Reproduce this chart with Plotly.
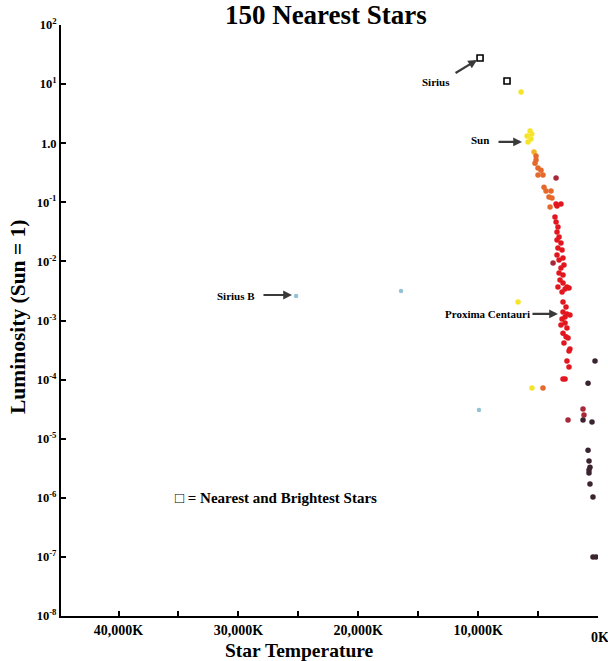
import plotly.graph_objects as go
import math

# ---------------- data (temperature in K, luminosity in Sun = 1) ----------------
bright_T = [9840, 7590]
bright_L = [27.7, 11.3]

yellow_T = [6420, 5670, 5530, 5920, 5590, 5840, 6670, 5510]
yellow_L = [7.35, 1.61, 1.43, 1.32, 1.18, 1.05, 0.00206, 7.2e-5]

yorange_T = [5340]
yorange_L = [0.71]

orange_T = [5170, 5170, 5255, 5005, 4755, 5005, 4590, 4505, 4340, 3920, 4090, 3840, 4000, 4590]
orange_L = [0.607, 0.52, 0.46, 0.38, 0.35, 0.29, 0.29, 0.18, 0.155, 0.155, 0.123, 0.118, 0.083, 7.2e-5]

red_T = [3500, 3420, 3090, 3590, 3500, 3340, 3420, 3250, 3420, 3090, 3340, 3000,
         3420, 2920, 3250, 2840, 3090, 3250, 2920, 3170, 2920, 3340, 2590, 3000,
         2750, 2420, 2920, 2670, 2920, 2590, 2750, 3000, 2340, 3090, 2750, 2590,
         2920, 2670, 2500, 2840, 2340, 2420, 2590, 2420, 2920, 2750]
red_L = [0.094, 0.0865, 0.094, 0.0564, 0.0464, 0.0382, 0.0314, 0.0259, 0.0230, 0.0205, 0.0169, 0.0156,
         0.0128, 0.0114, 0.0106, 0.0087, 0.0077, 0.00637, 0.00589, 0.00484, 0.00431, 0.00369, 0.00369, 0.00303,
         0.00341, 0.00355, 0.00206, 0.00169, 0.00139, 0.00129, 0.00115, 0.00106, 0.00124, 0.00084, 0.00091, 0.00075,
         0.00061, 0.00053, 0.000506, 0.000416, 0.00033, 0.000305, 0.000206, 0.000163, 0.000102, 0.000102]

darkred_T = [3500, 3750, 2500, 1250, 1170]
darkred_L = [0.258, 0.0094, 2.07e-5, 3.18e-5, 2.52e-5]

brown_T = [250, 830, 1250, 500, 830, 750, 670, 750, 750, 670, 420, 420, 170]
brown_L = [2.06e-4, 8.7e-5, 2.07e-5, 1.92e-5, 6.4e-6, 4.2e-6, 3.3e-6, 2.95e-6, 2.63e-6, 1.71e-6, 1.03e-6, 9.95e-8, 1.0e-7]

blue_T = [25190, 16430, 9930]
blue_L = [0.0026, 0.00315, 3.06e-5]

circle_T = [8425, 7675]
circle_L = [5.3e-4, 6.15e-4]

y_tick_vals = [1e-8, 1e-7, 1e-6, 1e-5, 1e-4, 1e-3, 1e-2, 1e-1, 1, 10, 100]
y_tick_text = ["10<sup>-8</sup>", "10<sup>-7</sup>", "10<sup>-6</sup>", "10<sup>-5</sup>", "10<sup>-4</sup>",
               "10<sup>-3</sup>", "10<sup>-2</sup>", "10<sup>-1</sup>", "1.0", "10<sup>1</sup>", "10<sup>2</sup>"]
x_tick_vals = [0, 5000, 10000, 15000, 20000, 25000, 30000, 35000, 40000]
x_tick_text = ["", "", "10,000K", "", "20,000K", "", "30,000K", "", "40,000K"]

# labels: (text, T, L)
label_items = [("Sirius", 13500, 10.9), ("Sun", 9840, 1.13),
               ("Sirius B", 30200, 0.0026), ("Proxima Centauri", 9180, 0.00129)]
# arrows: (tip T, tip L, ax px, ay px)
arrow_items = [(10090, 25.6, -23, 14), (6340, 1.05, -25, 0),
               (25530, 0.0027, -30, 0), (3340, 0.00129, -27, 0)]

FONT = "Liberation Serif, Times New Roman, serif"

fig = go.Figure()

def add(T, L, color, size=5.5, symbol="circle", line=None):
    fig.add_trace(go.Scatter(
        x=T, y=L, mode="markers",
        marker=dict(color=color, size=size, symbol=symbol,
                    line=line if line else dict(width=0)),
        showlegend=False, hoverinfo="x+y"))

add(yellow_T, yellow_L, "#f5e52a")
add(yorange_T, yorange_L, "#f2b422")
add(orange_T, orange_L, "#e6692c")
add(red_T, red_L, "#e2161f")
add(darkred_T, darkred_L, "#a8283a")
add(brown_T, brown_L, "#3b2330")
add(blue_T, blue_L, "#93c3d3", size=4.5)
add(circle_T, circle_L, "white", size=5, symbol="circle-open", line=dict(color="black", width=1.6))
add(bright_T, bright_L, "black", size=6, symbol="square-open", line=dict(color="black", width=1.6))

annotations = []
for txt, T, L in label_items:
    annotations.append(dict(x=T, y=math.log10(L), xref="x", yref="y", text=txt, showarrow=False,
                            xanchor="center", yanchor="middle",
                            font=dict(family=FONT, size=11, color="black", weight="bold")))
for T, L, ax, ay in arrow_items:
    annotations.append(dict(x=T, y=math.log10(L), xref="x", yref="y", text="", showarrow=True,
                            ax=ax, ay=ay, arrowhead=2, arrowsize=0.8, arrowwidth=2.2,
                            arrowcolor="#3a3a3a"))

annotations += [
    dict(x=0, y=-0.037, xref="x", yref="paper", text="0K", showarrow=False, xshift=2,
         xanchor="center", yanchor="middle",
         font=dict(family=FONT, size=14, color="black", weight="bold")),
    dict(x=0.445, y=-0.058, xref="paper", yref="paper", text="Star Temperature", showarrow=False,
         xanchor="center", yanchor="middle",
         font=dict(family=FONT, size=19.5, color="black", weight="bold")),
    dict(x=-0.08, y=0.506, xref="paper", yref="paper", text="Luminosity (Sun = 1)", showarrow=False,
         xanchor="center", yanchor="middle",
         textangle=-90, font=dict(family=FONT, size=21.5, color="black", weight="bold")),
    dict(x=0.40, y=0.200, xref="paper", yref="paper", text="□ = Nearest and Brightest Stars",
         xanchor="center", yanchor="middle",
         showarrow=False, font=dict(family=FONT, size=15, color="black", weight="bold")),
]

fig.update_layout(
    width=608, height=661,
    margin=dict(l=61, r=10, t=25, b=45),
    paper_bgcolor="white", plot_bgcolor="white",
    title=dict(text="150 Nearest Stars", x=0.536, xanchor="center", y=0.978, yanchor="middle",
               font=dict(family=FONT, size=27, color="black", weight="bold")),
    xaxis=dict(range=[44800, 0], tickvals=x_tick_vals, ticktext=x_tick_text,
               showgrid=False, zeroline=False, showline=True, linecolor="black", linewidth=2,
               ticks="inside", ticklen=5, tickwidth=1.5, tickcolor="black",
               tickfont=dict(family=FONT, size=14, color="black", weight="bold")),
    yaxis=dict(type="log", range=[-8, 2], tickvals=y_tick_vals, ticktext=y_tick_text,
               showgrid=False, zeroline=False, showline=True, linecolor="black", linewidth=2,
               ticks="inside", ticklen=5, tickwidth=1.5, tickcolor="black",
               tickfont=dict(family=FONT, size=12.5, color="black", weight="bold")),
    annotations=annotations,
)

fig.write_html("out.html")
